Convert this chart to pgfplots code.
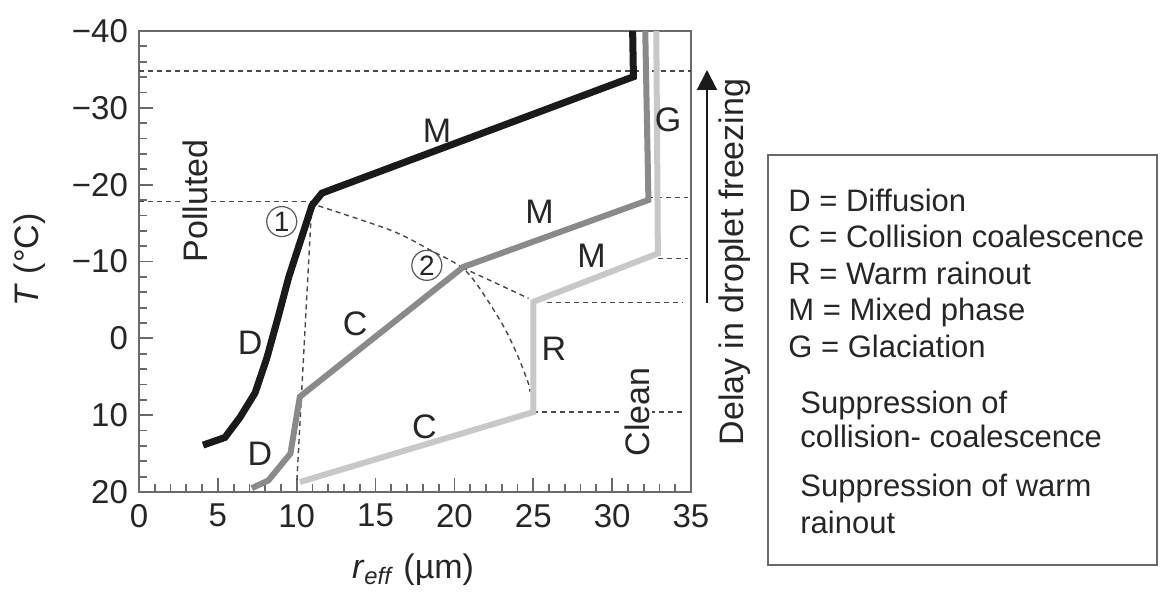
\documentclass[border=0pt]{standalone}
\usepackage{pgfplots}
\pgfplotsset{compat=1.18}
\usetikzlibrary{arrows.meta}
\usepackage{fontspec}
\setmainfont{Liberation Sans}
\definecolor{lgray}{HTML}{C8C8C8}
\definecolor{dgray}{HTML}{8A8A8A}
\definecolor{blk}{HTML}{1A1A1A}
\definecolor{dsh}{HTML}{4A4A4A}
\definecolor{frm}{HTML}{6A6A6A}
\definecolor{txt}{HTML}{262626}
\newcommand{\fs}{\fontsize{16.5}{19}\selectfont}
\newcommand{\fl}{\fontsize{17}{20}\selectfont}
\newcommand{\fm}{\fontsize{15.5}{18}\selectfont}
\tikzset{dl/.style={dsh, line width=0.7pt, dash pattern=on 2.5pt off 2pt}}
\begin{document}
\begin{tikzpicture}
\begin{scope}[x=0.5pt,y=-0.5pt,yshift=294.5pt]
\path[use as bounding box] (0,0) rectangle (1162,589);
\end{scope}
\begin{axis}[
  at={(69.5pt,48.5pt)}, anchor=south west,
  scale only axis, width=276pt, height=230.5pt,
  xmin=0, xmax=35, ymin=-40, ymax=20, y dir=reverse,
  xtick={0,5,...,35}, ytick={-40,-30,...,20},
  xticklabels={0,5,10,15,20,25,30,35},
  yticklabels={−40,−30,−20,−10,0,10,20},
  minor x tick num=4, minor y tick num=4,
  tick align=inside, xtick pos=bottom, ytick pos=left,
  major tick length=7pt, minor tick length=4pt,
  axis line style={frm, line width=1pt},
  tick style={frm, line width=0.9pt},
  ticklabel style={font=\fs, text=txt},
  xticklabel style={yshift=-2.5pt},
  yticklabel style={xshift=-2pt},
]
% dashed guide lines
\addplot[dl] coordinates {(0,-34.8) (35,-34.8)};
\addplot[dl] coordinates {(0,-17.8) (10.9,-17.8)};
\addplot[dl] coordinates {(32.3,-18.3) (34.8,-18.3)};
\addplot[dl] coordinates {(32.9,-10.4) (34.8,-10.4)};
\addplot[dl] coordinates {(25.9,-4.7) (34.5,-4.7)};
\addplot[dl] coordinates {(25,9.6) (34.5,9.6)};
\addplot[dl] coordinates {(10.95,-17.3) (10.0,18.9)};
\addplot[dl, smooth] coordinates {
  (10.84,-17.6) (15.92,-14.1) (18.45,-11.5) (20.78,-8.66) (22.89,-2.37) (23.95,1.97) (24.69,5.87) (24.79,6.97)};
\addplot[dl, smooth] coordinates {
  (20.5,-9.2) (22.67,-7.15) (24.7,-5.2)};
% text with white background
\node[rotate=90, font=\fl, text=txt, fill=white, inner sep=1pt] at (axis cs:3.6,-17.9) {Polluted};
\node[rotate=90, font=\fl, text=txt, fill=white, inner sep=1pt] at (axis cs:31.6,9.6) {Clean};
% curves
\addplot[lgray, line width=3pt] coordinates {
  (10.2,18.7) (25.0,9.6) (25.0,-4.75) (32.9,-11.05) (32.8,-40)};
\addplot[dgray, line width=3pt] coordinates {
  (7.15,19.5) (8.2,18.5) (9.6,15.0) (10.2,7.6) (20.57,-9.3) (32.3,-18.0) (32.1,-40)};
\addplot[blk, line width=3.5pt] coordinates {
  (4.06,13.9) (5.45,12.9) (6.4,10.3) (7.36,7.1) (8.1,2.6) (8.8,-2.6) (9.5,-8.0)
  (10.97,-17.3) (11.6,-18.9) (31.35,-34.05) (31.3,-40)};
% labels
\node[font=\fl, text=txt] at (axis cs:18.9,-27.0) {M};
\node[font=\fl, text=txt] at (axis cs:7.04,0.6) {D};
\node[font=\fl, text=txt] at (axis cs:13.7,-1.9) {C};
\node[font=\fl, text=txt] at (axis cs:7.67,15.0) {D};
\node[font=\fl, text=txt] at (axis cs:18.1,11.5) {C};
\node[font=\fl, text=txt] at (axis cs:25.4,-16.5) {M};
\node[font=\fl, text=txt] at (axis cs:28.7,-10.8) {M};
\node[font=\fl, text=txt] at (axis cs:26.3,1.3) {R};
\node[font=\fl, text=txt] at (axis cs:33.55,-28.4) {G};
\node[circle, draw=black!65, line width=0.6pt, inner sep=0pt, minimum size=15pt,
      font=\fontsize{14}{16}\selectfont, text=txt] at (axis cs:9.05,-15.2) {1};
\node[circle, draw=black!65, line width=0.6pt, inner sep=0pt, minimum size=15pt,
      font=\fontsize{14}{16}\selectfont, text=txt] at (axis cs:18.25,-9.5) {2};
\end{axis}
\begin{scope}[x=0.5pt,y=-0.5pt,yshift=294.5pt]
\draw[-{Triangle[width=10pt,length=10pt]}, line width=1pt, blk] (707,303) -- (707,70);
\node[rotate=90, font=\fl, text=txt] at (735,262) {Delay in droplet freezing};
\node[rotate=90, font=\fl, text=txt] at (30,260) {\textit{T} (°C)};
\node[font=\fl, text=txt] at (413,570) {\textit{r}\textsubscript{\textit{eff}} (µm)};
\draw[frm, line width=0.8pt] (768,155) rectangle (1157,565);
\node[anchor=base west, font=\fm, text=txt, inner sep=0pt] at (788,212) {D = Diffusion};
\node[anchor=base west, font=\fm, text=txt, inner sep=0pt] at (788,248) {C = Collision coalescence};
\node[anchor=base west, font=\fm, text=txt, inner sep=0pt] at (788,285) {R = Warm rainout};
\node[anchor=base west, font=\fm, text=txt, inner sep=0pt] at (788,321) {M = Mixed phase};
\node[anchor=base west, font=\fm, text=txt, inner sep=0pt] at (788,358) {G = Glaciation};
\node[anchor=base west, font=\fm, text=txt, inner sep=0pt] at (800,413) {Suppression of};
\node[anchor=base west, font=\fm, text=txt, inner sep=0pt] at (800,448) {collision- coalescence};
\node[anchor=base west, font=\fm, text=txt, inner sep=0pt] at (800,496) {Suppression of warm};
\node[anchor=base west, font=\fm, text=txt, inner sep=0pt] at (800,533) {rainout};
\end{scope}
\end{tikzpicture}
\end{document}
